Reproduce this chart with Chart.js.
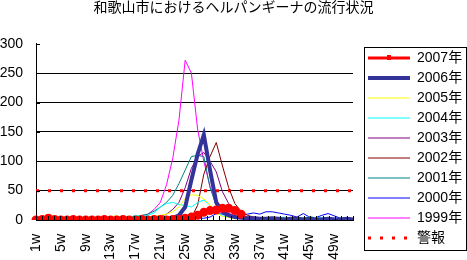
<!DOCTYPE html>
<html>
<head>
<meta charset="utf-8">
<script src="https://cdn.jsdelivr.net/npm/chart.js@4"></script>
<style>
html, body { margin: 0; padding: 0; background: #fff; }
</style>
</head>
<body>
<canvas id="chart" width="467" height="260"></canvas>
<script>
// weekly data
const weeks = ['1w','2w','3w','4w','5w','6w','7w','8w','9w','10w','11w','12w','13w',
  '14w','15w','16w','17w','18w','19w','20w','21w','22w','23w','24w','25w','26w',
  '27w','28w','29w','30w','31w','32w','33w','34w','35w','36w','37w','38w','39w',
  '40w','41w','42w','43w','44w','45w','46w','47w','48w','49w','50w','51w','52w'];

const y2007 = [0,1,3,1,0,0,1,0,0,0,0,1,0,0,1,0,0,1,0,1,1,0,1,1,3,5,8,13,16,17,20,20,16,10];
const y2006 = [1,0,1,0,1,0,0,1,0,0,1,0,0,1,0,0,1,1,0,1,1,2,3,8,22,68,112,145,85,30,14,8,5,4,3,3,2,2,3,2,1,2,2,1,2,1,1,2,1,1,2,1];
const y2005 = [1,2,1,1,2,1,1,1,2,1,2,3,6,7,4,3,3,4,5,6,8,10,14,22,37,43,42,36,26,12,6,4,3,3,2,3,2,3,4,3,3,2,2,1,2,1,2,1,1,2,1,1];
const y2004 = [1,1,2,1,1,0,1,1,1,2,1,1,2,2,2,4,8,6,8,12,22,28,30,26,25,22,30,34,25,13,7,5,4,3,4,3,4,3,3,4,5,4,3,4,5,3,4,3,2,3,2,2];
const y2003 = [1,1,1,2,1,1,1,0,1,1,1,1,1,1,2,1,1,2,2,4,6,10,18,30,55,88,108,115,100,82,48,28,15,8,5,4,3,3,2,3,2,2,1,2,2,1,1,2,1,1,1,1];
const y2002 = [2,1,2,1,1,1,2,1,1,1,1,2,1,1,2,1,2,2,3,3,4,4,5,10,5,4,25,78,108,132,92,55,28,15,8,5,4,3,3,2,3,2,2,2,1,2,2,1,1,2,1,1];
const y2001 = [1,1,4,3,2,1,1,1,1,1,1,1,1,2,2,3,5,8,10,15,22,30,42,62,85,108,110,108,55,25,12,8,5,4,4,3,3,4,3,3,2,3,4,3,5,4,3,4,3,3,2,2];
const y2000 = [1,1,2,1,1,2,1,1,1,2,1,1,2,1,2,2,3,2,3,3,3,4,5,5,6,4,3,3,5,11,10,6,4,8,10,12,10,14,14,12,10,8,5,11,5,4,8,11,7,3,4,2];
const y1999 = [0,1,1,0,1,1,0,1,1,1,1,1,1,2,2,2,3,5,10,18,30,60,105,170,272,250,155,100,57,32,20,12,7,5,4,3,3,2,2,3,2,2,1,2,1,1,2,1,1,1,1,1];
const alarm = [50,50,50,50,50,50,50,50,50,50,50,50,50,50,50,50,50,50,50,50,50,50,50,50,50,50,
  50,50,50,50,50,50,50,50,50,50,50,50,50,50,50,50,50,50,50,50,50,50,50,50,50,50];

const yTicks = [0, 50, 100, 150, 200, 250, 300];

const fontFamily = "'Liberation Sans', 'Noto Sans CJK JP', sans-serif";
const alarmDash = [3, 9];

function line(label, data, color, width) {
  return {
    label: label,
    data: data,
    borderColor: color,
    backgroundColor: color,
    borderWidth: width,
    pointRadius: 0,
    tension: 0
  };
}

const datasets = [
  Object.assign(line('2007年', y2007, '#FF0000', 3), { pointRadius: 3, pointStyle: 'circle' }),
  line('2006年', y2006, '#333399', 4),
  line('2005年', y2005, '#FFFF00', 1),
  line('2004年', y2004, '#00FFFF', 1),
  line('2003年', y2003, '#800080', 1),
  line('2002年', y2002, '#800000', 1),
  line('2001年', y2001, '#008080', 1),
  line('2000年', y2000, '#0000FF', 1),
  line('1999年', y1999, '#FF00FF', 1),
  Object.assign(line('警報', alarm, '#FF0000', 3), { borderDash: alarmDash })
];

// small inside tick marks on both axes (excel style)
const axisTicks = {
  id: 'axisTicks',
  afterDatasetsDraw(chart) {
    const ctx = chart.ctx;
    const x = chart.scales.x;
    const y = chart.scales.y;
    const step = (x.right - x.left) / weeks.length;
    ctx.save();
    ctx.strokeStyle = '#000';
    ctx.lineWidth = 1;
    ctx.beginPath();
    for (let i = 0; i <= weeks.length; i++) {
      const px = Math.round(x.left + i * step) + 0.5;
      ctx.moveTo(px, y.bottom);
      ctx.lineTo(px, y.bottom - 4);
    }
    yTicks.forEach(function (v) {
      const py = Math.round(y.getPixelForValue(v)) + 0.5;
      ctx.moveTo(x.left, py);
      ctx.lineTo(x.left + 4, py);
    });
    ctx.stroke();
    ctx.restore();
  }
};

// legend width + bordered box like the excel legend
const legendBox = {
  id: 'legendBox',
  afterInit(chart) {
    const lg = chart.legend;
    const fit = lg.fit;
    lg.fit = function () {
      fit.call(this);
      this.width = 105;
    };
  },
  afterDraw(chart) {
    const lg = chart.legend;
    const ctx = chart.ctx;
    const hb = lg.legendHitBoxes;
    ctx.save();
    ctx.strokeStyle = '#000';
    ctx.lineWidth = 1;
    ctx.strokeRect(Math.round(lg.left) + 2.5, 47.5, Math.round(lg.width) - 3, 203);
    if (hb.length) {
      // marker on the 2007 sample line
      ctx.fillStyle = '#FF0000';
      const cx = hb[0].left + 21;
      const cy = hb[0].top + 7;
      ctx.fillRect(Math.round(cx) - 2, Math.round(cy) - 3, 4, 5);
      // dotted sample for the alarm line
      const last = hb[hb.length - 1];
      const ly = Math.round(last.top + 7);
      ctx.fillStyle = '#fff';
      ctx.fillRect(last.left - 1, ly - 3, 44, 6);
      ctx.strokeStyle = '#FF0000';
      ctx.lineWidth = 3;
      ctx.setLineDash(alarmDash);
      ctx.beginPath();
      ctx.moveTo(last.left, ly);
      ctx.lineTo(last.left + 42, ly);
      ctx.stroke();
    }
    ctx.restore();
  }
};

const config = {
  type: 'line',
  data: {
    labels: weeks,
    datasets: datasets
  },
  options: {
    responsive: false,
    animation: false,
    devicePixelRatio: 1,
    layout: { padding: 0 },
    plugins: {
      title: {
        display: true,
        text: '和歌山市におけるヘルパンギーナの流行状況',
        color: '#000',
        font: { family: fontFamily, size: 14, weight: 'normal' },
        padding: { top: 0, bottom: 27 }
      },
      legend: {
        position: 'right',
        align: 'start',
        title: {
          display: true,
          text: ' ',
          font: { size: 1, lineHeight: 1 },
          padding: { top: 44, bottom: 0 }
        },
        labels: {
          color: '#000',
          font: { family: fontFamily, size: 14 },
          usePointStyle: true,
          pointStyle: 'line',
          pointStyleWidth: 42,
          boxWidth: 42,
          padding: 6
        }
      },
      tooltip: { enabled: false }
    },
    scales: {
      x: {
        grid: { display: false, drawTicks: false },
        border: { display: true, color: '#000', width: 1 },
        ticks: {
          autoSkip: false,
          maxRotation: 90,
          minRotation: 90,
          padding: 14,
          color: '#000',
          font: { family: fontFamily, size: 14 },
          callback: function (v, i) {
            return i % 4 === 0 ? weeks[i] : '';
          }
        },
        afterFit: function (s) { s.height = 40; }
      },
      y: {
        min: 0,
        max: 300,
        afterBuildTicks: function (s) {
          s.ticks = yTicks.map(function (v) { return { value: v }; });
        },
        grid: {
          drawTicks: false,
          color: function (c) { return c.tick && c.tick.value === 300 ? 'rgba(0,0,0,0)' : '#000'; }
        },
        border: { display: true, color: '#000', width: 1 },
        ticks: {
          padding: 13,
          color: '#000',
          font: { family: fontFamily, size: 14 }
        },
        afterFit: function (s) { s.width = 36; }
      },
      y2: {
        position: 'right',
        display: true,
        grid: { display: false, drawTicks: false },
        border: { display: false },
        ticks: { display: false },
        afterFit: function (s) { s.width = 9; }
      }
    }
  },
  plugins: [axisTicks, legendBox]
};

new Chart(document.getElementById('chart'), config);
</script>
</body>
</html>
